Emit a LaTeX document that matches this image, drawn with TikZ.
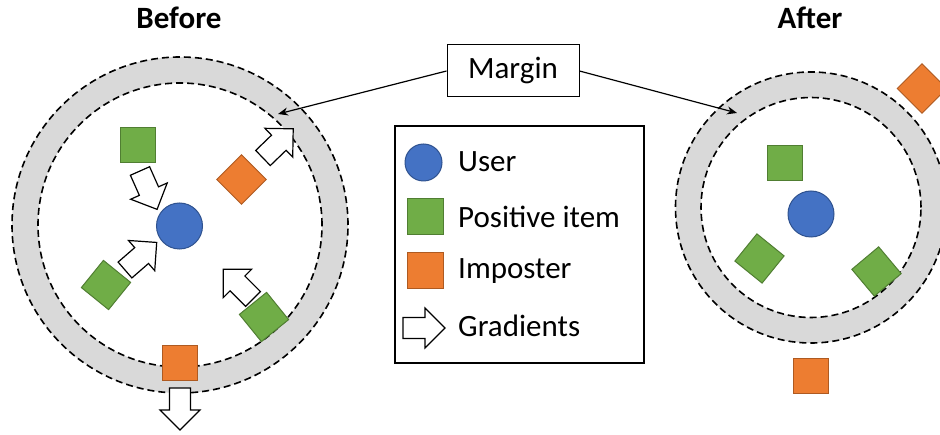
\documentclass[tikz,border=0pt]{standalone}
\usepackage{fontspec}
\setmainfont{Carlito}
\usetikzlibrary{arrows.meta}
\definecolor{ublue}{HTML}{4472C4}
\definecolor{ubluedk}{HTML}{2F528F}
\definecolor{pgreen}{HTML}{70AD47}
\definecolor{pgreendk}{HTML}{507E32}
\definecolor{iorange}{HTML}{ED7D31}
\definecolor{iorangedk}{HTML}{AE5A21}
\definecolor{ringgray}{HTML}{D9D9D9}
\tikzset{
  userdot/.style={circle, fill=ublue, draw=ubluedk, line width=1pt, minimum size=46pt, inner sep=0pt},
  possq/.style={rectangle, fill=pgreen, draw=pgreendk, line width=1pt, minimum size=35pt, inner sep=0pt},
  impsq/.style={rectangle, fill=iorange, draw=iorangedk, line width=1pt, minimum size=35pt, inner sep=0pt},
  ringline/.style={draw=black, line width=1.6pt, dash pattern=on 7pt off 4pt},
  txt/.style={font=\fontsize{31}{37}\selectfont, inner sep=0pt},
  title/.style={font=\fontsize{31}{37}\selectfont\bfseries, inner sep=0pt},
  garrow/.pic={\draw[fill=white, draw=black, line width=1.2pt, line join=miter]
     (0pt,-10.5pt) -- (22pt,-10.5pt) -- (22pt,-20pt) -- (42pt,0pt) -- (22pt,20pt) -- (22pt,10.5pt) -- (0pt,10.5pt) -- cycle;}
}
\begin{document}
\begin{tikzpicture}[x=1pt,y=-1pt]
\clip (0,0) rectangle (940,435);
\fill[white] (0,0) rectangle (940,435);
% ---- Before ----
\coordinate (bc) at (180,225);
\fill[ringgray, even odd rule] (bc) circle (168pt) (bc) circle (142pt);
\draw[ringline] (bc) circle (168pt);
\draw[ringline] (bc) circle (142pt);
\node[title] (before) at (179,18) {Before};
\node[userdot] (bu) at (179.5,226) {};
\node[possq] (bp1) at (138,145) {};
\node[possq, rotate=-39] (bp2) at (106,285) {};
\node[possq, rotate=39] (bp3) at (264,317) {};
\node[impsq, rotate=45] (bi1) at (241.5,179.5) {};
\node[impsq] (bi2) at (179.5,363.5) {};
\pic[rotate=-66] at (140,171) {garrow};
\pic[rotate=41] at (125,270) {garrow};
\pic[rotate=44] at (263,158) {garrow};
\pic[rotate=135] at (253,299) {garrow};
\pic[rotate=-90] at (180,388) {garrow};
% ---- After ----
\coordinate (ac) at (811,207.5);
\fill[ringgray, even odd rule] (ac) circle (135.5pt) (ac) circle (110pt);
\draw[ringline] (ac) circle (135.5pt);
\draw[ringline] (ac) circle (110pt);
\node[title] (after) at (810,18) {After};
\node[userdot] (au) at (811,214) {};
\node[possq] (ap1) at (784.5,163.5) {};
\node[possq, rotate=-39] (ap2) at (759.5,258.5) {};
\node[possq, rotate=40] (ap3) at (876.5,271.5) {};
\node[impsq, rotate=45] (ai1) at (922,88.5) {};
\node[impsq] (ai2) at (811,376) {};
% ---- Margin ----
\node[txt, draw=black, line width=1pt, minimum width=132pt, minimum height=52pt] (margin) at (513,71) {Margin};
\coordinate (ml) at (278,114);
\coordinate (mr) at (737,113);
\draw[line width=1.2pt, -{Stealth[length=10pt, width=8pt]}] (margin.west) -- (ml);
\draw[line width=1.2pt, -{Stealth[length=10pt, width=8pt]}] (margin.east) -- (mr);
% ---- Legend ----
\node[draw=black, line width=1.2pt, minimum width=249pt, minimum height=237pt, inner sep=0pt] (legend) at (519.5,244.5) {};
\node[userdot, minimum size=37pt] (lu) at (423.5,162.5) {};
\node[possq, minimum size=36pt] (lp) at (425,217) {};
\node[impsq, minimum size=36pt] (li) at (425,271) {};
\pic at (403,328) {garrow};
\node[txt, anchor=west] (tu) at (458,162) {User};
\node[txt, anchor=west] (tp) at (458,217) {Positive item};
\node[txt, anchor=west] (ti) at (458,271) {Imposter};
\node[txt, anchor=west] (tg) at (458,326) {Gradients};
\end{tikzpicture}
\end{document}
